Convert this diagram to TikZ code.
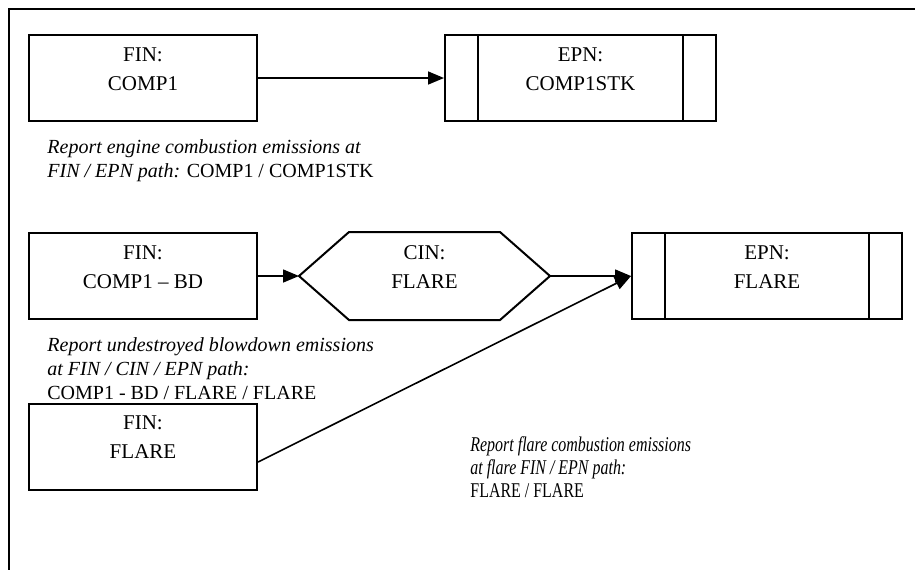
\documentclass[tikz,border=0pt]{standalone}
\usepackage{fontspec}
\setmainfont{Liberation Serif}
\newfontfamily\narrowserif{Liberation Serif}[FakeStretch=0.76]
\usetikzlibrary{arrows.meta}
\tikzset{
    box/.style={draw, line width=1pt, minimum width=114pt, minimum height=43pt,
        align=center, font=\fontsize{10.5}{14.5}\selectfont, text height=21.5pt, text depth=9.5pt},
    note/.style={anchor=west, align=left, inner sep=0pt, font=\fontsize{10}{12}\selectfont},
    flow/.style={line width=0.8pt, -{Triangle[length=8pt,width=6.5pt]}}
}

\begin{document}
\begin{tikzpicture}[x=0.5pt, y=-0.5pt]
            \useasboundingbox (0,0) rectangle (915,570);
            \draw [line width=1pt] (915,9) -- (9,9) -- (9,570);

            \node [box] (FIN1) at (143, 78) {FIN:\\COMP1};
            \node [box, minimum width=135.5pt] (EPN1) at (580.5, 78) {EPN:\\COMP1STK};
            \node [box] (FIN2) at (143, 276) {FIN:\\COMP1 -- BD};
            \node [box, draw=none, minimum width=124.5pt] (CIN) at (424.5, 276) {CIN:\\FLARE};
            \node [box, minimum width=135pt] (EPN2) at (767, 276) {EPN:\\FLARE};
            \node [box] (FIN3) at (143, 446.5) {FIN:\\FLARE};

            \draw [line width=1pt] (CIN.west) -- ([xshift=25pt]CIN.north west) -- ([xshift=-25pt]CIN.north east)
                -- (CIN.east) -- ([xshift=-25pt]CIN.south east) -- ([xshift=25pt]CIN.south west) -- cycle;

            \draw [line width=0.7pt] ([xshift=17pt]EPN1.north west) -- ([xshift=17pt]EPN1.south west);
            \draw [line width=0.7pt] ([xshift=-17pt]EPN1.north east) -- ([xshift=-17pt]EPN1.south east);
            \draw [line width=0.7pt] ([xshift=17pt]EPN2.north west) -- ([xshift=17pt]EPN2.south west);
            \draw [line width=0.7pt] ([xshift=-17pt]EPN2.north east) -- ([xshift=-17pt]EPN2.south east);

            \draw [flow] (FIN1) -- (EPN1);
            \draw [flow] (FIN2) -- (CIN.west);
            \draw [flow] (CIN.east) -- (EPN2.west);
            \draw [flow] ([yshift=-7.75pt]FIN3.east) -- (EPN2.west);

            \node [note] (noteA) at (47, 161) {\textit{Report engine combustion emissions at}\\
                \textit{FIN / EPN path:} COMP1 / COMP1STK};
            \node [note] (noteB) at (47, 369) {\textit{Report undestroyed blowdown emissions}\\
                \textit{at FIN / CIN / EPN path:}\\COMP1 - BD / FLARE / FLARE};
            \node [note, font=\fontsize{10.5}{11.5}\narrowserif] (noteC) at (470, 467) {\textit{Report flare combustion emissions}\\
                \textit{at flare FIN / EPN path:}\\FLARE / FLARE};
        \end{tikzpicture}
\end{document}
